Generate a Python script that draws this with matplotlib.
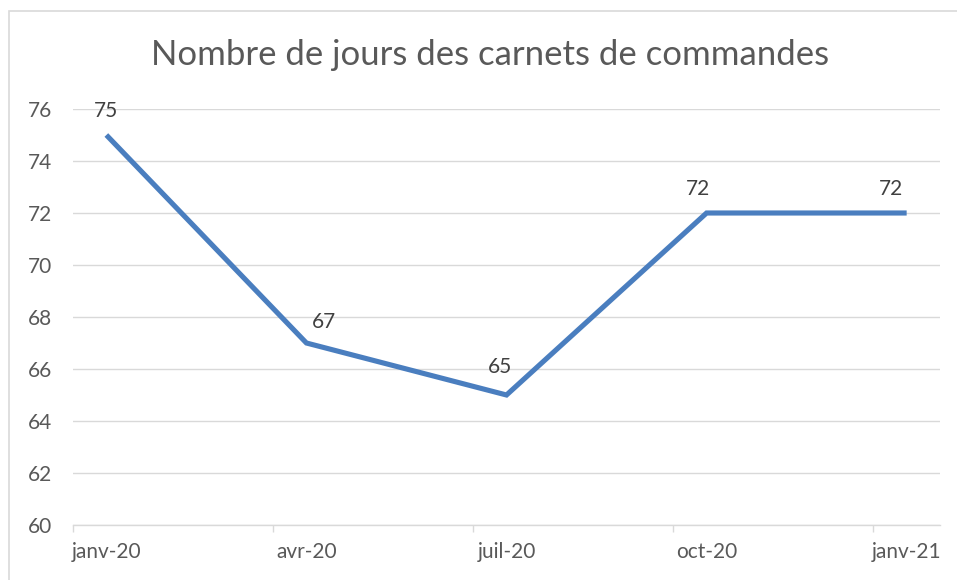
import numpy as np
import matplotlib
matplotlib.use("Agg")
import matplotlib.pyplot as plt
from matplotlib.patches import Rectangle

# data
months = ["janv-20", "avr-20", "juil-20", "oct-20", "janv-21"]
month_index = [0, 3, 6, 9, 12]   # months since janv-20
jours = [75, 67, 65, 72, 72]

# label nudges in points (dx, dy) to match the hand-placed labels
label_offsets = [(0, 17), (13, 15), (-5, 20), (-6, 17), (-11, 17)]

text_col = "#595959"
grid_col = "#D9D9D9"
line_col = "#4A7EBF"

plt.rcParams['font.family'] = ['Lato', 'DejaVu Sans']

fig = plt.figure(figsize=(9.57, 5.80), dpi=100)
ax = fig.add_axes([73/957, 1 - 525/580, (940 - 73)/957, (525 - 109)/580])

ax.plot(month_index, jours, color=line_col, lw=3.7, solid_joinstyle='miter',
        solid_capstyle='butt', zorder=3)

for x, y, (dx, dy) in zip(month_index, jours, label_offsets):
    ax.annotate(f"{y}", (x, y), xytext=(dx, dy), textcoords='offset points',
                ha='center', va='center', fontsize=15, color="#404040")

ax.set_xlim(-0.5, 12.5)
ax.set_ylim(60, 76)
ax.set_yticks(np.arange(60, 77, 2))
ax.set_xticks(month_index)
ax.set_xticklabels(months)
ax.set_xticks(np.arange(-0.5, 12, 3), minor=True)

ax.tick_params(axis='x', which='major', length=0, pad=12, labelsize=15, labelcolor=text_col)
ax.tick_params(axis='x', which='minor', length=5, width=1, color=grid_col, direction='out')
ax.tick_params(axis='y', length=0, pad=15, labelsize=15, labelcolor=text_col)

ax.yaxis.grid(True, color=grid_col, lw=1)
ax.set_axisbelow(True)
for side in ['top', 'right', 'left']:
    ax.spines[side].set_visible(False)
ax.spines['bottom'].set_color(grid_col)
ax.spines['bottom'].set_linewidth(1)

fig.text(490/957, 1 - 55/580, "Nombre de jours des carnets de commandes",
         ha='center', va='center', fontsize=25, color=text_col)

# chart border
fig.patches.append(Rectangle((9/957, -0.1), 1.2, 1 - 11/580 + 0.1,
                             transform=fig.transFigure, fill=False,
                             edgecolor=grid_col, lw=1.2))

fig.savefig("out.png", dpi=100)
